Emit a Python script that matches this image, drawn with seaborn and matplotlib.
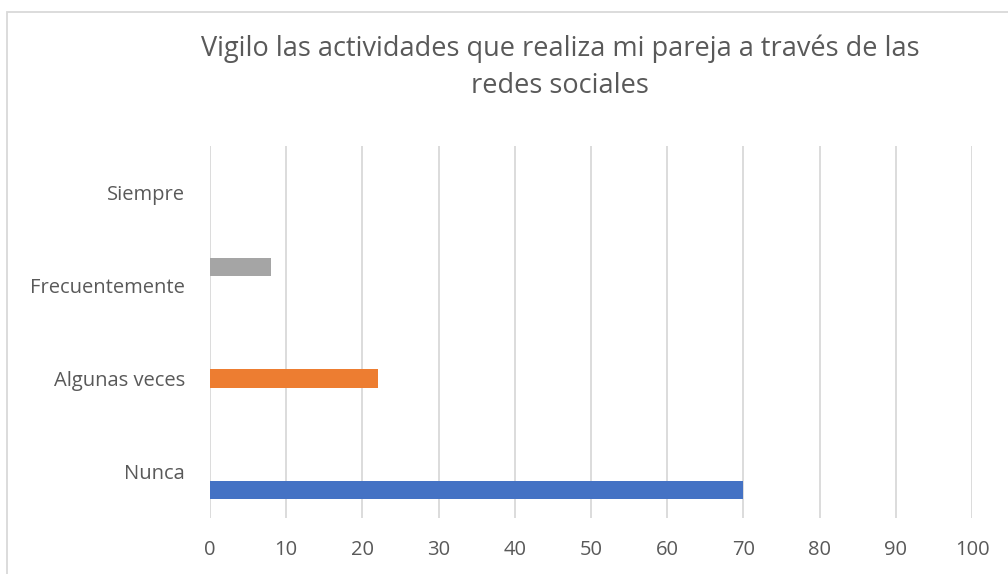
import pandas as pd
import matplotlib
matplotlib.use("Agg")
import matplotlib.pyplot as plt
from matplotlib.patches import Rectangle
import seaborn as sns

# data
categories = ["Siempre", "Frecuentemente", "Algunas veces", "Nunca"]
values = [0, 8, 22, 70]
# one series per answer plus an empty trailing slot, as in the Excel original
series = ["Siempre", "Frecuentemente", "Algunas veces", "Nunca", "(vacío)"]
series_colors = ["#FFC000", "#A5A5A5", "#ED7D31", "#4472C4", "#5B9BD5"]
x_ticks = [0, 10, 20, 30, 40, 50, 60, 70, 80, 90, 100]
title = "Vigilo las actividades que realiza mi pareja a través de las\nredes sociales"

TEXT = "#595959"
GRID = "#D9D9D9"

rows = []
for cat, val in zip(categories, values):
    for s in series:
        rows.append({"cat": cat, "serie": s, "valor": val if s == cat else 0})
df = pd.DataFrame(rows)

sns.set_theme(style="white")
plt.rcParams["font.family"] = ["Open Sans", "DejaVu Sans"]

fig = plt.figure(figsize=(10.08, 5.74), dpi=100)
ax = fig.add_axes([210 / 1008, 1 - 518 / 574, 762 / 1008, 372 / 574])

sns.barplot(
    data=df, x="valor", y="cat", hue="serie",
    order=categories, hue_order=series, palette=series_colors,
    saturation=1, orient="h", dodge=True, width=0.99, linewidth=0,
    ax=ax, legend=False,
)

ax.set_xlim(0, 100)
ax.set_ylim(3.5, -0.5)
ax.set_xticks(x_ticks)
ax.set_xticklabels([str(t) for t in x_ticks])
ax.set_xlabel("")
ax.set_ylabel("")
ax.grid(axis="x", color=GRID, linewidth=1.3)
ax.grid(axis="y", visible=False)
ax.set_axisbelow(True)
for sp in ax.spines.values():
    sp.set_visible(False)
ax.tick_params(axis="both", length=0, labelsize=14.5, colors=TEXT)
ax.tick_params(axis="x", pad=16)
ax.tick_params(axis="y", pad=18)

fig.text(560 / 1008, 1 - 67 / 574, title, ha="center", va="center",
         fontsize=19.5, color=TEXT, linespacing=1.45)

# chart area border
fig.patches.append(Rectangle((7 / 1008, -0.05), 1.1, 1 - 12 / 574 + 0.05,
                             transform=fig.transFigure, fill=False,
                             edgecolor=GRID, linewidth=1.3))

fig.savefig("out.png", dpi=100)
